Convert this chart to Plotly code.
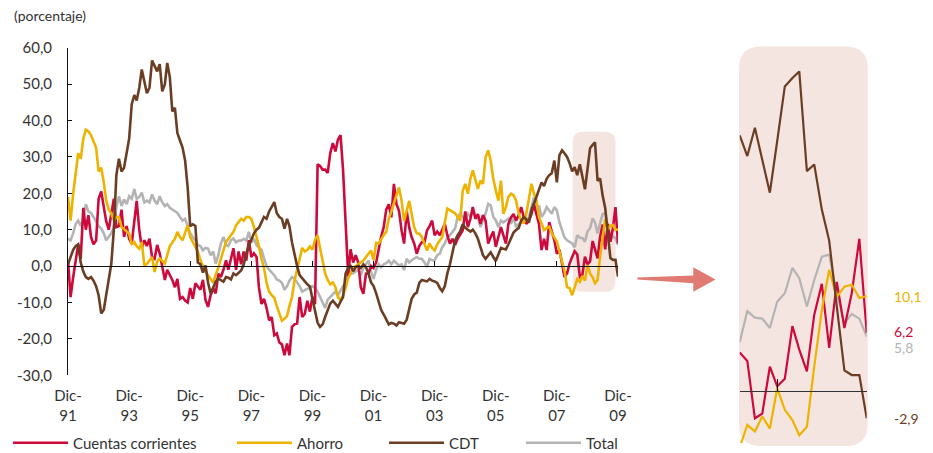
import pandas as pd
import plotly.graph_objects as go

# The page body adds an 8px margin, so the figure is sized to fill the rest of the window
PAGE_OFF = 8
W, H = 933 - PAGE_OFF, 453 - PAGE_OFF

# ---------------- data (monthly, Dec-1991 .. Dec-2009) ----------------
start_month = "1991-12-01"

cuentas_corrientes = [
    1.6,
    -8.5, -3.0, 1.0, 6.0, 2.0, 16.0, 10.0, 14.0, 8.0, 6.0, 7.0, 18.5,
    20.5, 16.0, 12.4, 10.0, 14.0, 18.5, 10.7, 11.0, 15.5, 8.0, 11.0, 7.5,
    6.2, 12.0, 17.9, 10.0, 5.0, 7.1, 5.5, 7.5, 2.5, 2.0, 5.8, 3.5,
    -0.2, -3.8, -1.0, -2.5, -3.8, -5.8, -3.5, -9.0, -8.5, -9.5, -10.0, -6.0,
    -9.0, -4.7, -5.5, -6.5, -3.8, -9.3, -11.2, -8.0, -6.1, -7.5, -2.1, -3.0,
    -1.0, 1.6, -1.0, 2.5, 4.9, -1.0, 4.0, 0.5, 4.0, 1.5, 7.1, 2.5,
    3.5, 2.5, -5.8, -10.4, -9.0, -11.5, -14.9, -14.0, -19.0, -18.5, -21.0, -21.5,
    -24.5, -21.3, -24.5, -16.7, -16.0, -15.8, -8.5, -14.0, -13.1, -9.5, -12.5, -8.5,
    -10.5, 28.0, 27.5, 26.5, 26.5, 25.6, 31.0, 33.8, 31.5, 34.7, 36.0, 26.5,
    11.8, -2.8, 4.6, 1.0, 3.0, 1.0, -5.8, -7.6, -2.1, -2.0, 0.0, -0.5,
    1.0, 5.0, 8.0, 10.7, 15.5, 17.0, 13.4, 22.6, 17.0, 15.2, 9.8, 6.2,
    15.2, 10.5, 8.0, 6.2, 3.4, 5.5, 6.6, 6.5, 9.8, 11.0, 12.5, 8.5,
    9.5, 8.5, 9.8, 11.6, 8.5, 6.2, 7.5, 5.8, 7.5, 8.5, 9.8, 15.0,
    10.7, 13.0, 16.2, 13.0, 14.3, 11.6, 14.0, 12.5, 6.2, 8.0, 9.5, 5.3,
    8.0, 10.7, 8.5, 6.2, 11.6, 13.4, 14.3, 12.5, 14.0, 16.2, 13.4, 11.6,
    12.5, 14.3, 17.0, 14.5, 11.6, 4.4, 7.5, 4.4, 12.1, 9.5, 7.1, 3.4,
    4.5, 0.7, -3.0, -2.0, 0.7, 2.5, 4.1, 3.2, -2.9, -2.4, 2.6, 0.5,
    1.3, 6.9, 4.4, 2.1, 8.1, 11.4, 4.6, 11.6, 6.7, 10.4, 16.2, 6.2,
]

ahorro = [
    19.0,
    12.5, 20.0, 26.0, 31.0, 29.5, 35.0, 37.5, 37.0, 36.0, 34.0, 32.5, 26.0,
    27.0, 23.0, 18.2, 15.5, 14.5, 12.5, 13.5, 13.5, 10.7, 10.2, 9.5, 8.9,
    6.1, 6.6, 5.5, 4.8, 6.6, 0.2, 0.6, 1.5, 2.5, -1.6, 1.2, 2.1,
    1.5, 0.7, 3.0, 5.5, 6.5, 7.5, 9.4, 8.0, 7.1, 8.9, 11.2, 8.0,
    6.6, 5.5, 4.0, 1.6, 0.0, -1.4, -2.5, -3.5, -4.6, -2.3, -0.5, 2.0,
    4.3, 6.6, 7.5, 8.5, 9.4, 11.2, 12.0, 13.0, 12.5, 13.5, 13.5, 13.0,
    10.7, 8.0, 5.5, 2.0, -0.5, -4.6, -7.0, -8.0, -8.7, -11.0, -13.0, -15.0,
    -14.5, -13.7, -11.0, -8.5, -4.0, -1.0, 2.7, 5.0, 4.0, 4.5, 5.4, 4.5,
    7.2, 8.5, 5.0, 1.6, -2.0, -3.8, -5.0, -4.5, -5.8, -8.5, -9.4, -8.0,
    -6.0, -3.3, -2.0, -0.5, 0.0, 0.5, 0.9, 1.5, 2.5, 3.5, 4.3, 1.6,
    6.4, 6.2, 7.5, 8.5, 9.4, 13.0, 15.0, 17.0, 19.5, 21.6, 17.9, 12.5,
    15.5, 17.9, 14.3, 10.7, 9.0, 8.9, 8.0, 6.2, 4.3, 6.2, 5.0, 4.3,
    6.0, 7.1, 8.0, 12.0, 15.8, 15.4, 15.0, 14.5, 13.5, 12.5, 20.7, 22.6,
    19.9, 24.0, 26.3, 23.5, 21.2, 23.5, 22.6, 29.9, 31.8, 29.0, 24.0, 20.8,
    18.0, 23.5, 14.4, 16.2, 19.0, 19.9, 19.5, 18.0, 14.4, 12.5, 11.7, 14.4,
    19.0, 22.6, 20.0, 18.0, 13.5, 11.7, 9.9, 10.5, 10.8, 9.0, 7.7, 6.8,
    4.0, 1.5, -1.2, -5.8, -6.0, -8.0, -6.0, -3.6, -4.3, -2.7, -4.0, 0.3,
    -2.0, -3.1, -4.7, -3.8, 2.6, 8.6, 12.9, 10.0, 11.1, 11.3, 9.9, 10.1,
]

cdt = [
    0.5,
    2.5, 4.5, 5.5, 6.0, 1.0, -1.5, -3.0, -3.5, -3.0, -4.0, -5.5, -8.0,
    -13.0, -12.0, -8.0, -4.0, 0.5, 10.0, 25.0, 29.5, 26.0, 27.0, 31.0, 35.0,
    44.5, 47.0, 45.5, 49.0, 54.0, 50.5, 47.5, 49.0, 56.5, 55.0, 53.5, 55.5,
    48.0, 50.0, 55.8, 52.0, 42.5, 43.5, 36.5, 34.5, 32.5, 29.0, 21.5, 11.0,
    11.5, 11.0, 1.0, 0.5, -1.8, 0.2, -4.5, -7.5, -6.0, -4.3, -3.4, -3.8,
    -4.3, -3.0, -3.2, -3.7, -2.0, -2.5, -1.8, -1.2, 0.5, 3.5, 5.5, 7.0,
    9.0, 10.0, 10.5, 12.0, 13.5, 13.0, 15.0, 16.3, 17.6, 14.5, 13.5, 13.0,
    10.3, 13.0, 11.0, 6.5, 3.0, 0.0, -2.5, -3.5, -4.2, -5.0, -5.6, -9.0,
    -12.5, -15.6, -16.7, -16.0, -14.0, -12.0, -10.3, -9.5, -10.5, -11.2, -9.8, -8.5,
    -2.0, -0.5, 0.0, -1.4, -0.3, 0.0, -0.5, 0.5, -0.3, -2.0, -4.5, -5.5,
    -7.5, -10.0, -12.0, -13.3, -14.5, -16.0, -15.6, -15.8, -16.3, -15.4, -15.6, -15.8,
    -14.7, -11.5, -9.0, -7.8, -7.3, -4.6, -3.8, -4.0, -4.2, -3.5, -4.0, -4.2,
    -4.6, -6.0, -6.9, -5.5, -2.0, 0.5, 4.0, 7.0, 8.5, 9.5, 11.5, 10.5,
    10.0, 9.5, 10.0, 9.0, 7.5, 5.0, 3.0, 2.0, 3.0, 3.8, 2.5, 1.4,
    3.2, 5.0, 4.8, 4.6, 6.0, 7.8, 9.2, 9.9, 10.5, 12.5, 13.5, 12.8,
    12.0, 15.5, 17.0, 19.0, 21.0, 23.0, 22.0, 24.0, 25.0, 25.5, 29.0, 23.0,
    30.5, 31.8, 31.0, 30.0, 28.3, 26.0, 27.2, 25.0, 28.0, 24.5, 21.1, 26.6,
    32.4, 33.3, 34.0, 23.4, 24.1, 19.3, 16.0, 9.0, 2.2, 1.7, 1.7, -2.9,
]

total = [
    7.5,
    7.1, 9.0, 11.5, 12.5, 11.0, 13.0, 17.0, 15.0, 14.6, 13.5, 12.0, 11.0,
    10.3, 9.0, 7.1, 8.0, 9.0, 10.7, 16.2, 19.2, 16.5, 18.3, 17.0, 19.2,
    18.5, 21.2, 18.5, 19.0, 20.2, 17.5, 18.0, 17.5, 19.7, 18.0, 17.0, 19.2,
    17.5, 16.5, 17.0, 16.0, 15.5, 15.2, 14.6, 13.5, 12.5, 13.0, 11.0, 9.0,
    8.0, 7.1, 5.8, 5.5, 4.3, 5.0, 4.8, 3.0, 4.0, 0.7, 3.0, 6.2,
    8.0, 5.8, 5.5, 7.1, 7.6, 6.5, 7.0, 7.0, 7.5, 7.0, 9.4, 6.5,
    7.5, 5.8, 5.0, 4.5, 2.2, 0.0, -1.0, -1.8, -2.5, -3.7, -4.0, -4.6,
    -6.5, -5.5, -4.0, -3.0, -3.5, -4.5, -5.5, -7.0, -6.5, -6.2, -6.0, -5.5,
    -6.0, -7.0, -8.5, -10.0, -11.5, -9.2, -8.5, -7.5, -7.0, -8.0, -6.7, -5.5,
    -4.6, -1.0, -2.1, -2.0, -1.5, -1.0, -2.5, -0.5, 0.5, 1.5, -1.5, -3.5,
    -1.0, 0.5, -0.3, 0.5, 0.8, 1.5, 0.5, 1.5, 0.8, 0.2, 0.5, -1.1,
    2.0, 1.0, 1.6, 2.0, 2.5, 2.0, 2.0, 1.0, -0.2, 2.0, 1.6, 1.6,
    3.0, 3.4, 5.2, 6.2, 7.9, 8.5, 9.5, 10.3, 13.5, 14.4, 13.5, 13.0,
    14.4, 13.5, 15.3, 14.0, 13.5, 10.7, 12.6, 14.4, 17.1, 16.7, 13.5, 12.6,
    10.7, 12.5, 12.0, 12.6, 13.0, 11.6, 13.5, 10.7, 11.6, 12.1, 12.5, 12.1,
    13.5, 16.2, 18.9, 14.0, 16.7, 13.5, 14.5, 16.2, 15.3, 14.4, 16.2, 15.3,
    12.0, 9.9, 7.9, 7.1, 6.6, 6.2, 5.2, 8.5, 7.8, 7.7, 6.7, 9.5,
    10.4, 13.1, 12.0, 9.0, 11.8, 14.3, 14.5, 10.4, 7.2, 8.2, 7.7, 5.8,
]

y_ticks = [-30, -20, -10, 0, 10, 20, 30, 40, 50, 60]
y_ticktext = ["-30,0", "-20,0", "-10,0", "0,0", "10,0", "20,0", "30,0", "40,0", "50,0", "60,0"]
x_tick_dates = ["1991-12-01", "1993-12-01", "1995-12-01", "1997-12-01", "1999-12-01",
                "2001-12-01", "2003-12-01", "2005-12-01", "2007-12-01", "2009-12-01"]
x_ticktext = ["Dic-<br>91", "Dic-<br>93", "Dic-<br>95", "Dic-<br>97", "Dic-<br>99",
              "Dic-<br>01", "Dic-<br>03", "Dic-<br>05", "Dic-<br>07", "Dic-<br>09"]
inset_months = 18
inset_tick_dates = ["2008-12-01", "2009-12-01"]

colors = {"Cuentas corrientes": "#CC0A3C", "Ahorro": "#EDB300",
          "CDT": "#6B3E24", "Total": "#B4B4B4"}
series = {"Cuentas corrientes": cuentas_corrientes, "Ahorro": ahorro,
          "CDT": cdt, "Total": total}

FONT = "Lato"
TXT = "#333333"


def months_for(vals):
    return pd.date_range(start_month, periods=len(vals), freq="MS")


def px_x(x):
    # window pixel -> paper fraction
    return (x - PAGE_OFF) / W


def px_y(y):
    return 1 - (y - PAGE_OFF) / H


def rrect(x0, y0, x1, y1, r):
    pts = lambda x, y: f"{px_x(x):.5f},{px_y(y):.5f}"
    return (f"M{pts(x0 + r, y0)} L{pts(x1 - r, y0)} Q{pts(x1, y0)} {pts(x1, y0 + r)} "
            f"L{pts(x1, y1 - r)} Q{pts(x1, y1)} {pts(x1 - r, y1)} "
            f"L{pts(x0 + r, y1)} Q{pts(x0, y1)} {pts(x0, y1 - r)} "
            f"L{pts(x0, y0 + r)} Q{pts(x0, y0)} {pts(x0 + r, y0)} Z")


fig = go.Figure()

# main chart (draw order: Total, Cuentas, Ahorro on x/y; CDT on overlay x2)
legend_ids = {"Cuentas corrientes": "legend", "Ahorro": "legend2", "CDT": "legend3", "Total": "legend4"}
for name in ["Total", "Cuentas corrientes", "Ahorro", "CDT"]:
    vals = series[name]
    fig.add_trace(go.Scatter(
        x=months_for(vals), y=vals, mode="lines", name=name,
        line=dict(color=colors[name], width=2.6),
        xaxis="x2" if name == "CDT" else "x", yaxis="y",
        legend=legend_ids[name], hoverinfo="skip",
    ))

# inset (last 18 months)
for name in ["Total", "Cuentas corrientes", "Ahorro", "CDT"]:
    vals = series[name]
    m = months_for(vals)
    fig.add_trace(go.Scatter(
        x=m[-inset_months:], y=vals[-inset_months:], mode="lines", name=name,
        line=dict(color=colors[name], width=2.2), showlegend=False,
        xaxis="x3", yaxis="y3", hoverinfo="skip",
    ))

# inset end-value labels
label_shift = {"Ahorro": 0, "Cuentas corrientes": 1, "Total": -11, "CDT": 0}
annotations = []
for name in ["Ahorro", "Cuentas corrientes", "Total", "CDT"]:
    v = series[name][-1]
    annotations.append(dict(
        x=px_x(892), xref="paper", xanchor="left", y=v, yref="y3", yanchor="middle",
        yshift=label_shift[name], text=f"{v:.1f}".replace(".", ","), showarrow=False,
        font=dict(family=FONT, size=14, color=colors[name])))
annotations.append(dict(
    x=px_x(12), y=px_y(16), xref="paper", yref="paper", xanchor="left", yanchor="middle",
    text="(porcentaje)", showarrow=False, font=dict(family=FONT, size=14, color=TXT)))

main_start = months_for(cdt)[0]
main_end = months_for(cdt)[-1]
inset_start = months_for(cdt)[-inset_months]

x_dom = [px_x(68), px_x(618)]
shapes = [
    dict(type="path", xref="paper", yref="paper", path=rrect(572.7, 131.7, 615.5, 291.7, 10),
         fillcolor="#F5E5E1", line=dict(width=0), layer="below"),
    dict(type="path", xref="paper", yref="paper", path=rrect(739.0, 46.5, 867.7, 446.0, 22),
         fillcolor="#F5E5E1", line=dict(width=0), layer="below"),
    dict(type="path", xref="paper", yref="paper",
         path=(f"M{px_x(637.3)},{px_y(277.6)} L{px_x(693.3)},{px_y(275.6)} "
               f"L{px_x(693.3)},{px_y(267.3)} L{px_x(715.5)},{px_y(279.4)} "
               f"L{px_x(693.3)},{px_y(291.7)} L{px_x(693.3)},{px_y(283.3)} "
               f"L{px_x(637.3)},{px_y(279.4)} Z"),
         fillcolor="#E07A72", line=dict(width=0), layer="above"),
]

legend_common = dict(orientation="h", xanchor="left", yanchor="middle", y=px_y(443),
                     bgcolor="rgba(0,0,0,0)", borderwidth=0, itemwidth=55,
                     font=dict(family=FONT, size=15, color=TXT))

fig.update_layout(
    width=W, height=H, margin=dict(l=0, r=0, t=0, b=0, autoexpand=False),
    paper_bgcolor="white", plot_bgcolor="rgba(0,0,0,0)",
    font=dict(family=FONT, size=15, color=TXT),
    showlegend=True,
    legend=dict(legend_common, x=px_x(8)),
    legend2=dict(legend_common, x=px_x(232)),
    legend3=dict(legend_common, x=px_x(384)),
    legend4=dict(legend_common, x=px_x(521)),
    xaxis=dict(domain=x_dom, range=[main_start, main_end], anchor="y",
               tickvals=x_tick_dates, ticktext=x_ticktext, ticks="", showline=False,
               showgrid=False, zeroline=False, ticklabelstandoff=10, automargin=False,
               tickfont=dict(family=FONT, size=15, color=TXT)),
    xaxis2=dict(overlaying="x", anchor="free", position=px_y(265.7), range=[main_start, main_end],
                tickvals=x_tick_dates, ticks="inside", ticklen=5, tickcolor="#111",
                showline=True, linecolor="#111", linewidth=1, showticklabels=False,
                showgrid=False, zeroline=False, automargin=False),
    yaxis=dict(domain=[px_y(375.3), px_y(47.7)], range=[-30, 60], anchor="x",
               tickvals=y_ticks, ticktext=y_ticktext, ticks="inside", ticklen=4,
               tickcolor="#111", showline=True, linecolor="#111", linewidth=1,
               showgrid=False, zeroline=False, ticklabelstandoff=12, automargin=False,
               tickfont=dict(family=FONT, size=15, color=TXT)),
    xaxis3=dict(domain=[px_x(739.7), px_x(866.7)], range=[inset_start, main_end],
                anchor="free", position=px_y(391), tickvals=inset_tick_dates,
                ticks="inside", ticklen=12, tickcolor="#111", showline=True,
                linecolor="#333", linewidth=1, showticklabels=False, showgrid=False,
                zeroline=False, automargin=False),
    yaxis3=dict(domain=[px_y(443), px_y(46.7)], range=[-5.53, 36.63], anchor="x3",
                visible=False, showgrid=False, zeroline=False, automargin=False),
    shapes=shapes, annotations=annotations,
)

fig.write_html("out.html")
